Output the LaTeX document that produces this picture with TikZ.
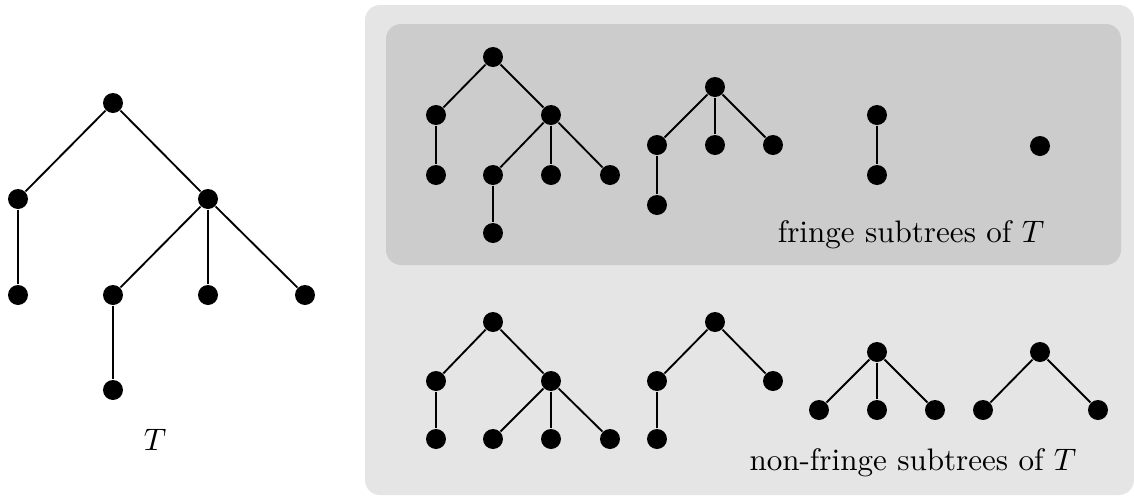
\documentclass[tikz,border=0pt]{standalone}
\usepackage{amsmath}
\usetikzlibrary{positioning}
\tikzset{%
  vtx/.style={circle,fill=black,inner sep=0pt,minimum size=0.226cm},
  tedge/.style={line width=0.6pt},
  outerbox/.style={fill=black!10,rounded corners=0.17cm},
  innerbox/.style={fill=black!20,rounded corners=0.17cm}%
}

\begin{document}
\begin{tikzpicture}[x=0.011313cm,y=-0.011313cm]
      \useasboundingbox (0,0) rectangle (1134,495);
      \fill[outerbox] (365,5) rectangle (1134,495);
      \fill[innerbox] (386,24) rectangle (1121,265);

      % the tree T
      \node (t_r) [vtx] at (113,103) {};
      \node (t_a) [vtx] at (18,199) {};  \node (t_b) [vtx] at (208,199) {};
      \node (t_aa) [vtx] at (18,295) {};
      \node (t_ba) [vtx] at (113,295) {}; \node (t_bb) [vtx] at (208,295) {}; \node (t_bc) [vtx] at (305,295) {};
      \node (t_baa) [vtx] at (113,390) {};
      \node (t_lab) at (155,440) {$T$};

      \path (t_r) edge[tedge] (t_a)  (t_r) edge[tedge] (t_b)
            (t_a) edge[tedge] (t_aa)
            (t_b) edge[tedge] (t_ba)  (t_b) edge[tedge] (t_bb)  (t_b) edge[tedge] (t_bc)
            (t_ba) edge[tedge] (t_baa);

      % fringe subtrees
      \node (f1_r) [vtx] at (493,57) {};
      \node (f1_a) [vtx] at (436,115) {}; \node (f1_b) [vtx] at (551,115) {};
      \node (f1_aa) [vtx] at (436,175) {};
      \node (f1_ba) [vtx] at (493,175) {}; \node (f1_bb) [vtx] at (551,175) {}; \node (f1_bc) [vtx] at (610,175) {};
      \node (f1_baa) [vtx] at (493,233) {};

      \node (f2_r) [vtx] at (715,87) {};
      \node (f2_a) [vtx] at (657,145) {}; \node (f2_b) [vtx] at (715,145) {}; \node (f2_c) [vtx] at (773,145) {};
      \node (f2_aa) [vtx] at (657,205) {};

      \node (f3_r) [vtx] at (877,115) {};
      \node (f3_a) [vtx] at (877,175) {};

      \node (f4_r) [vtx] at (1040,146) {};

      \node (f_lab) at (911,235) {fringe subtrees of $T$};

      \path (f1_r) edge[tedge] (f1_a)  (f1_r) edge[tedge] (f1_b)
            (f1_a) edge[tedge] (f1_aa)
            (f1_b) edge[tedge] (f1_ba)  (f1_b) edge[tedge] (f1_bb)  (f1_b) edge[tedge] (f1_bc)
            (f1_ba) edge[tedge] (f1_baa);
      \path (f2_r) edge[tedge] (f2_a)  (f2_r) edge[tedge] (f2_b)  (f2_r) edge[tedge] (f2_c)
            (f2_a) edge[tedge] (f2_aa);
      \path (f3_r) edge[tedge] (f3_a);

      % non-fringe subtrees
      \node (n1_r) [vtx] at (493,322) {};
      \node (n1_a) [vtx] at (436,381) {}; \node (n1_b) [vtx] at (551,381) {};
      \node (n1_aa) [vtx] at (436,439) {};
      \node (n1_ba) [vtx] at (493,439) {}; \node (n1_bb) [vtx] at (551,439) {}; \node (n1_bc) [vtx] at (610,439) {};

      \node (n2_r) [vtx] at (715,322) {};
      \node (n2_a) [vtx] at (657,381) {}; \node (n2_b) [vtx] at (773,381) {};
      \node (n2_aa) [vtx] at (657,439) {};

      \node (n3_r) [vtx] at (877,352) {};
      \node (n3_a) [vtx] at (819,410) {}; \node (n3_b) [vtx] at (877,410) {}; \node (n3_c) [vtx] at (935,410) {};

      \node (n4_r) [vtx] at (1040,352) {};
      \node (n4_a) [vtx] at (983,410) {}; \node (n4_b) [vtx] at (1098,410) {};

      \node (n_lab) at (913,463) {non-fringe subtrees of $T$};

      \path (n1_r) edge[tedge] (n1_a)  (n1_r) edge[tedge] (n1_b)
            (n1_a) edge[tedge] (n1_aa)
            (n1_b) edge[tedge] (n1_ba)  (n1_b) edge[tedge] (n1_bb)  (n1_b) edge[tedge] (n1_bc);
      \path (n2_r) edge[tedge] (n2_a)  (n2_r) edge[tedge] (n2_b)
            (n2_a) edge[tedge] (n2_aa);
      \path (n3_r) edge[tedge] (n3_a)  (n3_r) edge[tedge] (n3_b)  (n3_r) edge[tedge] (n3_c);
      \path (n4_r) edge[tedge] (n4_a)  (n4_r) edge[tedge] (n4_b);
\end{tikzpicture}
\end{document}
